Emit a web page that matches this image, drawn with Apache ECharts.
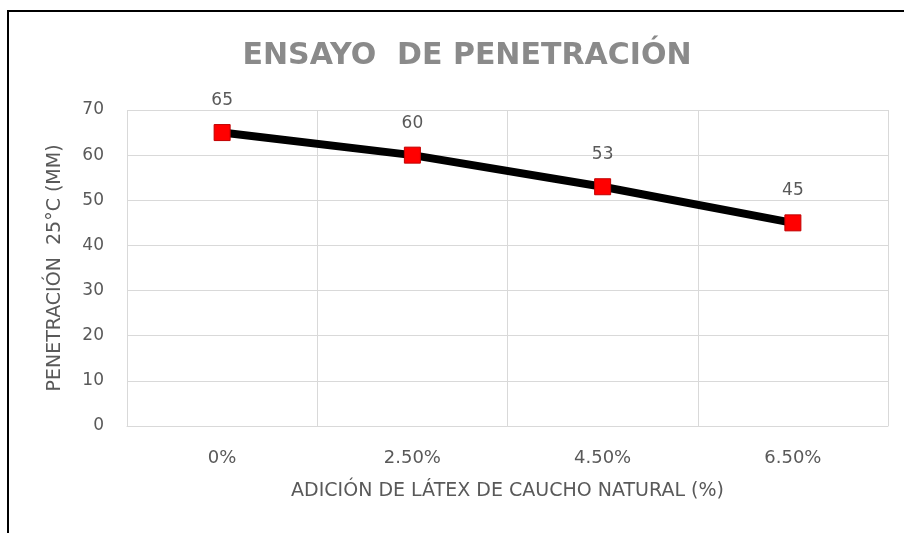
<!DOCTYPE html>
<html>
<head>
<meta charset="utf-8">
<script src="https://cdn.jsdelivr.net/npm/echarts@6/dist/echarts.min.js"></script>
<style>
  html, body { margin: 0; padding: 0; background: #fff; }
  #chart { width: 904px; height: 533px; }
</style>
</head>
<body>
<div id="chart"></div>
<script>
// datos del ensayo
const categories = ["0%", "2.50%", "4.50%", "6.50%"];
const penetracion = [65, 60, 53, 45];
const yTicks = { min: 0, max: 70, step: 10 };

const gray = "#595959";
const gridColor = "#d9d9d9";
const font = "DejaVu Sans";

const chart = echarts.init(document.getElementById("chart"));
chart.setOption({
  backgroundColor: "#fff",
  animation: false,
  title: {
    text: "ENSAYO  DE PENETRACIÓN",
    left: 462,
    top: 36,
    textAlign: "center",
    textStyle: {
      fontFamily: font,
      fontSize: 30,
      fontWeight: "bold",
      color: "#8a8a8a",
    },
  },
  // marco exterior (solo lados izquierdo y superior visibles)
  graphic: [
    {
      type: "rect",
      shape: { x: 8, y: 11, width: 1200, height: 1200 },
      style: { fill: "none", stroke: "#000", lineWidth: 2 },
    },
  ],
  grid: { left: 127, right: 16, top: 110, bottom: 107 },
  xAxis: {
    type: "category",
    data: categories,
    boundaryGap: true,
    name: "ADICIÓN DE LÁTEX DE CAUCHO NATURAL (%)",
    nameLocation: "middle",
    nameGap: 56,
    nameTextStyle: { fontFamily: font, fontSize: 19, color: gray },
    axisLine: { show: true, lineStyle: { color: gridColor, width: 1 } },
    axisTick: { show: false },
    axisLabel: { margin: 23, fontFamily: font, fontSize: 18, color: gray },
    splitLine: { show: true, lineStyle: { color: gridColor, width: 1 } },
  },
  yAxis: {
    type: "value",
    min: yTicks.min,
    max: yTicks.max,
    interval: yTicks.step,
    name: "PENETRACIÓN  25°C (MM)",
    nameLocation: "middle",
    nameGap: 62,
    nameTextStyle: { fontFamily: font, fontSize: 19, color: gray },
    axisLine: { show: false },
    axisTick: { show: false },
    axisLabel: { margin: 23, fontFamily: font, fontSize: 17, color: gray },
    splitLine: { show: true, lineStyle: { color: gridColor, width: 1 } },
  },
  series: [
    {
      type: "line",
      data: penetracion,
      symbol: "rect",
      symbolSize: 16,
      lineStyle: { color: "#000", width: 8 },
      itemStyle: { color: "#ff0000", borderColor: "#c00000", borderWidth: 1 },
      label: {
        show: true,
        position: "top",
        distance: 15,
        fontFamily: font,
        fontSize: 17,
        color: gray,
      },
    },
  ],
});
</script>
</body>
</html>
